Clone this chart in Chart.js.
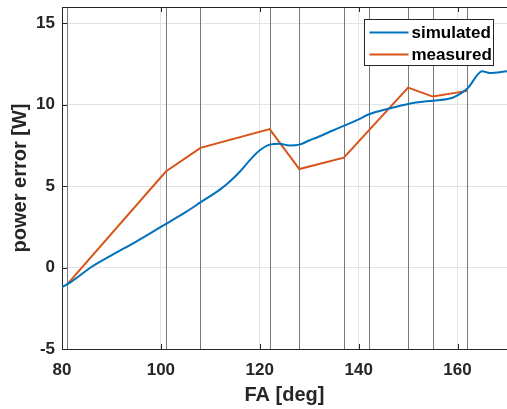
<!DOCTYPE html>
<html><head><meta charset="utf-8">
<script src="https://cdn.jsdelivr.net/npm/chart.js@4/dist/chart.umd.min.js"></script>
<style>html,body{margin:0;padding:0;background:#fff}#wrap{width:507px;height:409px}</style>
</head><body><div id="wrap"><canvas id="c" width="507" height="409"></canvas></div>
<script>
// Simulated curve (FA deg, W)
const simFA  = [80, 82, 86, 90, 95, 100, 105, 108, 112, 114, 116, 118, 120, 122, 124, 126, 128, 130, 132, 135, 137, 140, 142, 146, 150, 155, 158, 159.5, 162, 165, 166.5, 170];
const simW   = [-1.2, -0.85, 0.05, 0.75, 1.6, 2.5, 3.4, 4.0, 4.8, 5.3, 5.9, 6.6, 7.2, 7.55, 7.6, 7.5, 7.55, 7.8, 8.05, 8.45, 8.7, 9.1, 9.4, 9.75, 10.05, 10.25, 10.35, 10.5, 11.0, 12.05, 11.95, 12.05];
// Measured points
const measFA = [81, 101, 108, 122, 128, 137, 150, 155, 162];
const measW  = [-1.05, 5.9, 7.35, 8.5, 6.05, 6.75, 11.05, 10.5, 10.85];
// Vertical marker lines (measurement positions)
const markerFA = [81, 101, 108, 122, 128, 137, 142, 150, 155, 162];
const xTicks = [80, 100, 120, 140, 160];
const yTicks = [-5, 0, 5, 10, 15];
const seriesLabels = ['simulated', 'measured'];
const seriesColors = ['#0072BD', '#D95319'];

const FONT = 'Liberation Sans, Arial, sans-serif';
const AX = '#262626';

const markerPlugin = {
  id: 'markers',
  beforeDatasetsDraw(chart) {
    const {ctx, chartArea: a, scales: {x, y}} = chart;
    ctx.save();
    ctx.strokeStyle = '#7a7a7a';
    ctx.lineWidth = 1;
    markerFA.forEach(v => {
      const px = Math.round(x.getPixelForValue(v)) + 0.5;
      ctx.beginPath(); ctx.moveTo(px, a.top); ctx.lineTo(px, a.bottom); ctx.stroke();
    });
    ctx.restore();
  },
  afterDraw(chart) {
    const {ctx, chartArea: a, scales: {x, y}} = chart;
    ctx.save();
    ctx.strokeStyle = AX; ctx.lineWidth = 1;
    ctx.beginPath(); ctx.moveTo(a.left, a.top + 0.5); ctx.lineTo(a.right, a.top + 0.5); ctx.stroke();
    xTicks.forEach(v => {
      const px = Math.round(x.getPixelForValue(v)) + 0.5;
      ctx.beginPath(); ctx.moveTo(px, a.bottom); ctx.lineTo(px, a.bottom - 5); ctx.stroke();
      ctx.beginPath(); ctx.moveTo(px, a.top); ctx.lineTo(px, a.top + 5); ctx.stroke();
    });
    yTicks.forEach(v => {
      const py = Math.round(y.getPixelForValue(v)) + 0.5;
      ctx.beginPath(); ctx.moveTo(a.left, py); ctx.lineTo(a.left + 5, py); ctx.stroke();
    });
    // legend box
    const bx = 364.5, by = 19.5, bw = 129, bh = 46;
    ctx.fillStyle = '#fff';
    ctx.fillRect(bx, by, bw, bh);
    ctx.strokeRect(bx, by, bw, bh);
    ctx.font = 'bold 17px ' + FONT;
    ctx.textBaseline = 'middle';
    ctx.textAlign = 'left';
    seriesLabels.forEach((lab, i) => {
      const ly = by + 13 + i * 22;
      ctx.strokeStyle = seriesColors[i]; ctx.lineWidth = 2;
      ctx.beginPath(); ctx.moveTo(bx + 5, ly); ctx.lineTo(bx + 44, ly); ctx.stroke();
      ctx.fillStyle = '#000';
      ctx.fillText(lab, bx + 47, ly + 1);
    });
    ctx.restore();
  }
};

new Chart(document.getElementById('c'), {
  type: 'line',
  data: {
    datasets: [
      { label: seriesLabels[0], data: simFA.map((v, i) => ({x: v, y: simW[i]})),
        borderColor: seriesColors[0], borderWidth: 2, pointRadius: 0, cubicInterpolationMode: 'monotone', fill: false },
      { label: seriesLabels[1], data: measFA.map((v, i) => ({x: v, y: measW[i]})),
        borderColor: seriesColors[1], borderWidth: 2, pointRadius: 0, tension: 0, fill: false }
    ]
  },
  options: {
    responsive: false, animation: false, devicePixelRatio: 1,
    layout: { padding: { top: 7, right: 0, left: 0, bottom: 0 } },
    plugins: { legend: { display: false }, tooltip: { enabled: false } },
    scales: {
      x: {
        type: 'linear', min: 80, max: 170,
        afterBuildTicks: s => { s.ticks = xTicks.map(v => ({value: v})); },
        afterFit: s => { s.height = 60; s.paddingLeft = 0; s.paddingRight = 0; },
        grid: { color: '#e3e3e3', drawTicks: false },
        border: { color: AX },
        ticks: { color: AX, padding: 11, font: { family: FONT, size: 17, weight: 'bold' } },
        title: { display: true, text: 'FA [deg]', color: AX, padding: { top: 2, bottom: 2 },
                 font: { family: FONT, size: 20, weight: 'bold' } }
      },
      y: {
        type: 'linear', min: -5, max: 16,
        afterBuildTicks: s => { s.ticks = yTicks.map(v => ({value: v})); },
        afterFit: s => { s.width = 62; s.paddingTop = 0; s.paddingBottom = 0; },
        grid: { color: '#e3e3e3', drawTicks: false },
        border: { color: AX },
        ticks: { color: AX, padding: 7, font: { family: FONT, size: 17, weight: 'bold' } },
        title: { display: true, text: 'power error [W]', color: AX, padding: { top: 8, bottom: 0 },
                 font: { family: FONT, size: 20, weight: 'bold' } }
      }
    }
  },
  plugins: [markerPlugin]
});
</script>
</body></html>
